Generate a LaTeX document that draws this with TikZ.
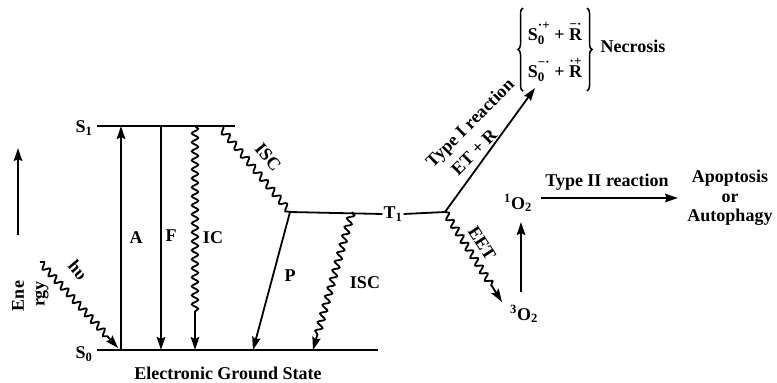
\documentclass[tikz,border=0pt]{standalone}
\usepackage{fontspec}
\setmainfont{Liberation Serif}
\usetikzlibrary{arrows.meta,decorations.pathmorphing,decorations.pathreplacing}
\newcommand\accmark[2]{\setbox0\hbox{#1}\rlap{#1}\makebox[\wd0][c]{\raisebox{0.66em}{\fontsize{13}{13}\selectfont #2}}}
\newcommand\radS[1]{S\rlap{\raisebox{0.62em}{\fontsize{13}{13}\selectfont #1}}\raisebox{-0.22em}{\fontsize{13}{13}\selectfont 0}\hspace{0.55em}}
\begin{document}
\begin{tikzpicture}[x=1pt,y=-1pt,
  lbl/.style={font=\fontsize{18}{21}\selectfont\bfseries, inner sep=1pt},
  ln/.style={line width=1.8pt},
  arr/.style={ln,-{Stealth[length=13pt,width=8.5pt,inset=2pt]}},
  wavy/.style={decorate,decoration={snake,segment length=9pt,amplitude=3.2pt,#1}},
  wavy/.default={}]
\useasboundingbox (0,0) rectangle (777,383);
% levels
\coordinate (S1L) at (97,126); \coordinate (S1R) at (235,126);
\coordinate (S0L) at (97,350); \coordinate (S0R) at (378,350);
\coordinate (T1L) at (290,212); \coordinate (T1R) at (445,212);
\node[lbl] (S1) at (84,128) {S\textsubscript{1}};
\node[lbl] (S0) at (84,354) {S\textsubscript{0}};
\node[lbl] (T1) at (393,214) {T\textsubscript{1}};
\node[lbl] (ground) at (228,373) {Electronic Ground State};
\draw[ln] (S1L) -- (S1R);
\draw[ln] (S0L) -- (S0R);
\draw[ln] (T1L) -- (T1.west);
\draw[ln] (T1.east) -- (T1R);
% transitions
\coordinate (Ab) at (121,350); \coordinate (At) at (121,126);
\draw[arr] (Ab) -- (At);
\node[lbl] (A) at (136,238) {A};
\coordinate (Ft) at (161,126); \coordinate (Fb) at (161,350);
\draw[arr] (Ft) -- (Fb);
\node[lbl] (F) at (171,236) {F};
\coordinate (ICt) at (195,126); \coordinate (ICb) at (195,350);
\draw[arr,wavy={post length=36pt}] (ICt) -- (ICb);
\node[lbl] (IC) at (213,238) {IC};
\coordinate (ISCa) at (219,126);
\draw[ln,wavy={segment length=10pt}] (ISCa) -- (T1L);
\node[lbl,rotate=-50] (ISC1) at (268,157) {ISC};
\coordinate (Pb) at (253,350);
\draw[arr] (T1L) -- (Pb);
\node[lbl] (P) at (290,276) {P};
\coordinate (ISCt) at (352,212); \coordinate (ISCb) at (313,350);
\draw[arr,wavy={post length=12pt}] (ISCt) -- (ISCb);
\node[lbl] (ISC2) at (365,283) {ISC};
% photon
\coordinate (hvs) at (40,262); \coordinate (hve) at (118,348);
\draw[arr,wavy={post length=14pt}] (hvs) -- (hve);
\node[lbl,rotate=-50] (hv) at (78,270) {hυ};
% energy axis
\coordinate (Eb) at (18,235); \coordinate (Et) at (18,148);
\draw[arr] (Eb) -- (Et);
\node[lbl,rotate=90] (ene) at (18,296) {Ene};
\node[lbl,rotate=90] (rgy) at (42,294) {rgy};
% type I
\coordinate (TIe) at (535,88);
\draw[arr] (T1R) -- (TIe);
\node[lbl,rotate=45] (typeI) at (471,124) {Type I reaction};
\node[lbl,rotate=45] (etr) at (474,152) {ET + R};
% radicals
\node[lbl] (r1) at (555,33) {\radS{·+}+ \accmark{R}{−·}};
\node[lbl] (r2) at (555,70) {\radS{−·}+ \accmark{R}{·+}};
\coordinate (bl1) at (523,91); \coordinate (bl2) at (523,8);
\coordinate (br1) at (587,8); \coordinate (br2) at (587,91);
\draw[line width=1.5pt,decorate,decoration={brace,amplitude=5pt}] (bl1) -- (bl2);
\draw[line width=1.5pt,decorate,decoration={brace,amplitude=5pt}] (br1) -- (br2);
\node[lbl] (necrosis) at (633,46) {Necrosis};
% EET / oxygen
\coordinate (EETe) at (502,302);
\draw[arr,wavy={post length=18pt}] (T1R) -- (EETe);
\node[lbl,rotate=-57] (EET) at (482,243) {EET};
\node[lbl] (O3) at (524,314) {\textsuperscript{3}O\textsubscript{2}};
\node[lbl] (O1) at (518,203) {\textsuperscript{1}O\textsubscript{2}};
\coordinate (Oa) at (521,292); \coordinate (Ob) at (521,222);
\draw[arr] (Oa) -- (Ob);
\coordinate (T2s) at (541,198); \coordinate (T2e) at (678,198);
\draw[arr] (T2s) -- (T2e);
\node[lbl] (typeII) at (607,182) {Type II reaction};
\node[lbl,align=center,font=\fontsize{18}{19.5}\selectfont\bfseries] (apop) at (730,198) {Apoptosis\\or\\Autophagy};
\end{tikzpicture}
\end{document}
